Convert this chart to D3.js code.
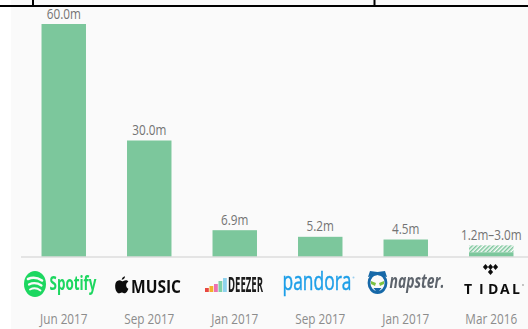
<!DOCTYPE html>
<html>
<head>
<meta charset="utf-8">
<script src="https://cdn.jsdelivr.net/npm/d3@7"></script>
<style>
html,body{margin:0;padding:0;background:#fff}
svg{display:block}
text{font-family:"Open Sans",sans-serif}
</style>
</head>
<body>
<svg id="chart" width="528" height="329"></svg>
<script>
const services = ["Spotify","Apple Music","Deezer","Pandora","Napster","Tidal"];
const subscribers = [60.0,30.0,6.9,5.2,4.5,1.2];
const upperEstimate = [null,null,null,null,null,3.0];
const valueLabels = ["60.0m","30.0m","6.9m","5.2m","4.5m","1.2m–3.0m"];
const dates = ["Jun 2017","Sep 2017","Jan 2017","Sep 2017","Jan 2017","Mar 2016"];
const deezerBars = ["#e8473f","#f3b02c","#ec6fb0","#7fd0a8","#8fd3ee"];

const svg = d3.select("#chart");
const W = 528, H = 329;
const baseY = 257;
const narrow = 0.84;

svg.append("rect").attr("x",11).attr("y",0).attr("width",W-11).attr("height",H).attr("fill","#fafafa");

// Table rule along the top edge
svg.append("rect").attr("x",0).attr("y",5).attr("width",W).attr("height",2).attr("fill","#000");
[32,373.5].forEach(x=>svg.append("rect").attr("x",x).attr("y",0).attr("width",2).attr("height",6).attr("fill","#000"));

const x = d3.scaleBand().domain(services).range([21,534]).paddingInner(0.48).paddingOuter(0.24);
const y = d3.scaleLinear().domain([0,60]).range([baseY,24]);

const defs = svg.append("defs");
const hatch = defs.append("pattern").attr("id","hatch").attr("patternUnits","userSpaceOnUse")
  .attr("width",3).attr("height",3).attr("patternTransform","rotate(45)");
hatch.append("rect").attr("width",1.5).attr("height",3).attr("fill","#7cc79c");

const softly = defs.append("filter").attr("id","soft").attr("x","-10%").attr("y","-10%").attr("width","120%").attr("height","120%");
softly.append("feGaussianBlur").attr("stdDeviation",0.35);

svg.append("g").selectAll("rect").data(services).join("rect")
  .attr("x",d=>x(d)).attr("width",x.bandwidth())
  .attr("y",(d,i)=>y(subscribers[i]))
  .attr("height",(d,i)=>baseY-y(subscribers[i]))
  .attr("fill","#7cc79c");

svg.append("g").selectAll("rect").data(services.filter((d,i)=>upperEstimate[i]!==null)).join("rect")
  .attr("x",d=>x(d)).attr("width",x.bandwidth())
  .attr("y",d=>y(upperEstimate[services.indexOf(d)]))
  .attr("height",d=>{const i=services.indexOf(d);return y(subscribers[i])-y(upperEstimate[i]);})
  .attr("fill","url(#hatch)");

svg.append("line").attr("x1",21).attr("x2",W).attr("y1",baseY).attr("y2",baseY)
  .attr("stroke","#dddddd").attr("stroke-width",1.5);

const cx = d=>x(d)+x.bandwidth()/2;

svg.append("g").selectAll("text").data(services).join("text")
  .attr("transform",(d,i)=>`translate(${cx(d)},${y(upperEstimate[i]===null?subscribers[i]:upperEstimate[i])-5.5}) scale(${narrow},1)`)
  .attr("text-anchor","middle").attr("font-size",14).attr("fill","#737373")
  .text((d,i)=>valueLabels[i]);

svg.append("g").selectAll("text").data(services).join("text")
  .attr("transform",d=>`translate(${cx(d)},324) scale(${narrow},1)`)
  .attr("text-anchor","middle").attr("font-size",14).attr("fill","#8c8c8c")
  .text((d,i)=>dates[i]);

const logos = svg.append("g").attr("filter","url(#soft)");

// Squeezes or stretches a word mark so it spans the given width from its left edge
function wordmark(str, left, base, width, size, family, weight, fill, style){
  const t = logos.append("text").attr("font-size",size).attr("font-weight",weight)
    .attr("font-family",family).attr("font-style",style||"normal").attr("fill",fill).text(str);
  const k = width / t.node().getComputedTextLength();
  t.attr("transform",`translate(${left},${base}) scale(${k},1)`);
  return t;
}

// Spotify: disc with three curved sound waves, then the word mark
logos.append("ellipse").attr("cx",35).attr("cy",284).attr("rx",11).attr("ry",13).attr("fill","#1ed760");
[[28,279,42,280.5,2.6],[29,284.5,41.5,285.5,2.2],[30,289.5,40.5,290.5,1.8]].forEach(([a,b,c,e,w])=>{
  logos.append("path").attr("d",`M${a} ${b}Q${(a+c)/2} ${b-3} ${c} ${e}`)
    .attr("fill","none").attr("stroke","#fafafa").attr("stroke-width",w).attr("stroke-linecap","round");
});
wordmark("Spotify",49.5,290,47,19,"Roboto, sans-serif",700,"#1ed760");

// Apple Music: fruit silhouette and capitals
const apple = logos.append("g").attr("transform","translate(115.5,276.5) scale(0.56,0.56)");
apple.append("path").attr("fill","#111")
  .attr("d","M3 8c3-2 6-2 8 0 1 .8 2 .8 3 0 3-2 7-2 9 1-2 1.500-4 3.500-4 6.500s2 5.500 4 6.500c-1 3.500-4 8-6 8-2.500.2-3-1.500-5.500-1.500s-3.500 1.500-5.500 1.500C3 30 0 25-.5 20-1 14 0 10 3 8z");
apple.append("path").attr("fill","#111").attr("d","M11 6c0-3 3-6 6-6.500 0 3.500-3 6.500-6 6.500z");
wordmark("MUSIC",131,293,50,18.5,"Roboto, sans-serif",700,"#111");

// Deezer: equaliser columns and a condensed word mark
const eq = [[205,4],[209.5,6],[214,8],[218.500,11],[223,14]];
eq.forEach(([ex,h],i)=>logos.append("rect").attr("x",ex).attr("y",292-h).attr("width",3.8).attr("height",h).attr("fill",deezerBars[i]));
wordmark("DEEZER",228,292,35,20.5,"'Liberation Sans Narrow','Liberation Sans',sans-serif",700,"#1c1c1c");

// Pandora word mark
wordmark("pandora",282.5,290,69,25,"Lato, sans-serif",500,"#1f9fe8").attr("stroke","#1f9fe8").attr("stroke-width",0.5);
logos.append("circle").attr("cx",353.5).attr("cy",277.5).attr("r",1).attr("fill","#9ccfee");

// Napster: cat head badge and italic word mark
logos.append("ellipse").attr("cx",377.5).attr("cy",283).attr("rx",8.5).attr("ry",9.5).attr("fill","#fafafa").attr("stroke","#1668a8").attr("stroke-width",2.8);
logos.append("path").attr("fill","#1668a8").attr("d","M368 277l2-6 7.500 1 7.500-1 2 6-9.500-2z");
logos.append("path").attr("fill","#7ac143").attr("d","M371 281l5 2-1 3-4-2zM384 281l-5 2 1 3 4-2z");
logos.append("path").attr("fill","#1668a8").attr("d","M373.500 288h8l-4 5z");
wordmark("napster.",389.5,288,55,20,"'Open Sans',sans-serif",700,"#5d646c","italic");

// Tidal: diamond cluster above spaced capitals
[[485.5,267],[490.500,267],[495.500,267],[490.500,272]].forEach(([dx,dy])=>{
  logos.append("path").attr("fill","#111").attr("d",d3.line()([[dx,dy-3],[dx+2.6,dy],[dx,dy+3],[dx-2.6,dy]])+"Z");
});
const tidalLetters = ["T","I","D","A","L"];
const tidalLeft = [464,479,488,500,512];
tidalLetters.forEach((c,i)=>logos.append("text").attr("x",tidalLeft[i]).attr("y",294)
  .attr("font-size",14).attr("font-weight",700).attr("font-family","Roboto, sans-serif").attr("fill","#111").text(c));
logos.append("circle").attr("cx",523).attr("cy",285).attr("r",0.9).attr("fill","#aaa");
</script>
</body>
</html>
